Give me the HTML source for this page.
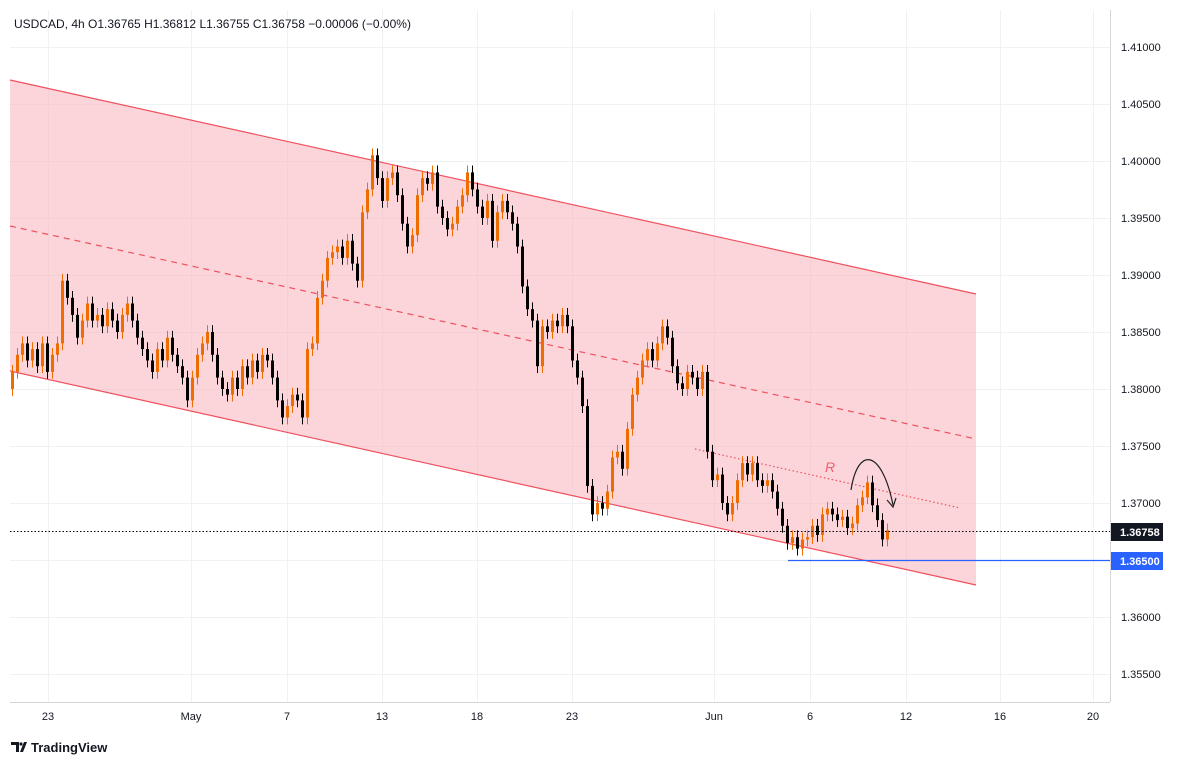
<!DOCTYPE html>
<html><head><meta charset="utf-8">
<style>
body{margin:0;background:#fff;font-family:"Liberation Sans",sans-serif;}
svg text{font-family:"Liberation Sans",sans-serif;}
</style></head>
<body>
<svg id="chart" width="1179" height="766" xmlns="http://www.w3.org/2000/svg">
<rect x="0" y="0" width="1179" height="766" fill="#fff"/>
<g id="grid"></g>
<polygon points="10,80 976,294 976,585 10,371" fill="#f7b3ba" fill-opacity="0.55"/>
<line x1="10" y1="80" x2="976" y2="294" stroke="#f0505e" stroke-width="1.2"/>
<line x1="10" y1="371" x2="976" y2="585" stroke="#f0505e" stroke-width="1.2"/>
<line x1="10" y1="226" x2="976" y2="439" stroke="#f0505e" stroke-width="1.2" stroke-dasharray="6,5"/>
<line x1="695" y1="449" x2="960" y2="508" stroke="#f0505e" stroke-width="1.2" stroke-dasharray="1.5,2.5"/>
<text x="825" y="472" fill="#f06070" font-size="14" font-style="italic">R</text>
<g id="candles"></g>
<line x1="10" y1="531.5" x2="1110" y2="531.5" stroke="#000" stroke-width="1" stroke-dasharray="1.5,2"/>
<line x1="788" y1="560.5" x2="1110" y2="560.5" stroke="#2962ff" stroke-width="1.2"/>
<path d="M851,490 C858,445 882,450 893,505" fill="none" stroke="#222" stroke-width="1.2"/>
<path d="M887,500 L893,507 L896,498" fill="none" stroke="#222" stroke-width="1.2"/>
<line x1="1110.5" y1="10" x2="1110.5" y2="702" stroke="#d6d6da"/>
<line x1="10" y1="702.5" x2="1110" y2="702.5" stroke="#d6d6da"/>
<g id="yaxis"></g>
<g id="xaxis"></g>
<rect x="1111" y="523" width="52" height="18" fill="#131722"/>
<text x="1120" y="536" fill="#fff" font-size="11" font-weight="bold">1.36758</text>
<rect x="1111" y="552" width="52" height="18" fill="#2962ff"/>
<text x="1120" y="565" fill="#fff" font-size="11" font-weight="bold">1.36500</text>
<text x="14" y="28" font-size="12" fill="#131722">USDCAD, 4h  O1.36765  H1.36812  L1.36755  C1.36758  −0.00006 (−0.00%)</text>
<g>
<path d="M11,742 h8 v10 h-3 v-7 h-5 z M20,752 l4,-10 h3 l-4,10 z" fill="#131722"/>
<circle cx="21" cy="744" r="1.6" fill="#131722"/>
<text x="31" y="752" font-size="13" font-weight="bold" fill="#131722">TradingView</text>
</g>
</svg>
<script>
const closes=[1.3815,1.3830,1.3840,1.3825,1.3835,1.3820,1.3840,1.3815,1.3830,1.3840,
1.3895,1.3880,1.3865,1.3845,1.3860,1.3875,1.3860,1.3865,1.3855,1.3870,
1.3860,1.3850,1.3865,1.3875,1.3860,1.3845,1.3835,1.3825,1.3815,1.3835,
1.3825,1.3845,1.3830,1.3820,1.3810,1.3790,1.3810,1.3830,1.3840,1.3850,
1.3830,1.3810,1.3800,1.3795,1.3810,1.3800,1.3820,1.3810,1.3825,1.3815,
1.3830,1.3825,1.3810,1.3790,1.3775,1.3785,1.3795,1.3790,1.3775,1.3835,
1.3840,1.3880,1.3895,1.3915,1.3920,1.3925,1.3915,1.3930,1.3910,1.3895,
1.3955,1.3975,1.4005,1.3985,1.3965,1.3985,1.3990,1.3970,1.3945,1.3925,
1.3935,1.3970,1.3985,1.3980,1.3990,1.3960,1.3950,1.3940,1.3945,1.3960,
1.3970,1.3990,1.3975,1.3960,1.3950,1.3965,1.3930,1.3955,1.3965,1.3955,
1.3945,1.3925,1.3890,1.3870,1.3860,1.3820,1.3855,1.3850,1.3860,1.3855,
1.3865,1.3855,1.3825,1.3810,1.3785,1.3715,1.3690,1.3700,1.3695,1.3710,
1.3740,1.3745,1.3730,1.3765,1.3795,1.3810,1.3825,1.3835,1.3825,1.3840,
1.3855,1.3845,1.3820,1.3805,1.3800,1.3815,1.3810,1.3800,1.3815,1.3745,
1.3720,1.3725,1.3700,1.3690,1.3700,1.3720,1.3735,1.3725,1.3735,1.3720,
1.3715,1.3720,1.3710,1.3695,1.3680,1.3665,1.3670,1.3660,1.3668,1.3670,
1.3680,1.3672,1.3690,1.3695,1.3690,1.3685,1.3688,1.3678,1.3682,1.3698,
1.3705,1.3718,1.3698,1.3685,1.3668,1.3676];
const firstOpen=1.3800;
const yTicks=[1.41,1.405,1.40,1.395,1.39,1.385,1.38,1.375,1.37,1.365,1.36,1.355];
const xTickLabels=["23","May","7","13","18","23","Jun","6","12","16","20"];
const xTickPos=[48,191,287,382,477,572,714,810,906,1000,1093];
const NS="http://www.w3.org/2000/svg";
function y(p){return 47+(1.41-p)*11400;}
function xi(i){return 12+i*5;}
function mk(t,a,parent){const e=document.createElementNS(NS,t);for(const k in a)e.setAttribute(k,a[k]);parent.appendChild(e);return e;}
const grid=document.getElementById('grid'),ya=document.getElementById('yaxis'),xa=document.getElementById('xaxis'),cg=document.getElementById('candles');
yTicks.forEach(p=>{
 const l=mk('line',{x1:10,x2:1110,y1:y(p)+0.5,y2:y(p)+0.5,stroke:'#f0f1f3'},grid);
 
 
 if(p===1.365)return;
 const t=mk('text',{x:1121,y:y(p)+4,'font-size':11,fill:'#131722'},ya);
 t.textContent=p.toFixed(5);
 
 
});
xTickLabels.forEach((s,k)=>{
 const l=mk('line',{x1:xTickPos[k]+0.5,x2:xTickPos[k]+0.5,y1:10,y2:702,stroke:'#f0f1f3'},grid);
 
 
 const t=mk('text',{x:xTickPos[k],y:720,'font-size':11,fill:'#131722','text-anchor':'middle'},xa);
 t.textContent=s;
 
 
});
closes.forEach((c,i)=>{
 const o=i===0?firstOpen:closes[i-1];
 const up=c>=o,col=up?'#ef6c00':'#000';
 const hi=Math.max(o,c)+0.0006,lo=Math.min(o,c)-0.0006;
 const x=xi(i);
 const w=mk('line',{x1:x+0.5,x2:x+0.5,y1:y(hi),y2:y(lo),stroke:col,'stroke-width':1},cg);
 
 
 const top=y(Math.max(o,c)),h=Math.max(1,y(Math.min(o,c))-top);
 const b=mk('rect',{x:x-1,y:top,width:3,height:h,fill:col},cg);
 
 
});
</script>
</body></html>
